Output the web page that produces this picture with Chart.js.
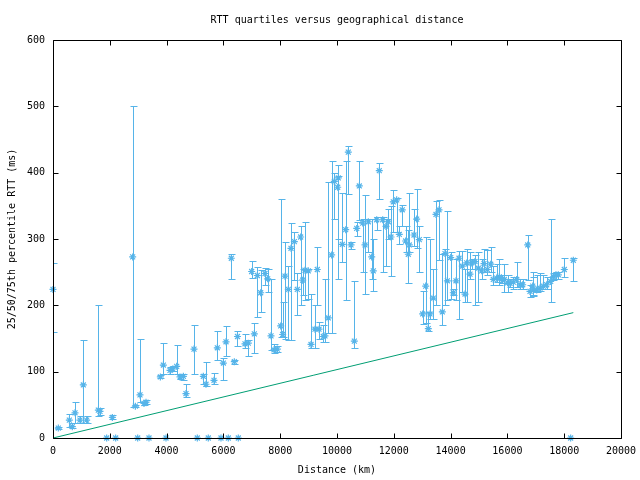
<!doctype html>
<html lang="en">
<head>
<meta charset="UTF-8" />
<title>RTT quartiles versus geographical distance</title>
<style>
  body { margin: 0; background: white; }
  canvas { display: block; }
</style>
</head>
<body>
<canvas id="rttChart" width="640" height="480"></canvas>
<script src="https://cdn.jsdelivr.net/npm/chart.js"></script>
<script>
// distance (km) of each destination and its 25/50/75th percentile RTT (ms)
var distanceKm = [
  0, 187, 575, 680, 775, 950, 1067, 1185, 1596, 1655,
  1890, 2090, 2207, 2805, 2900, 2982, 3063, 3204, 3275, 3380,
  3780, 3885, 3979, 4120, 4214, 4354, 4472, 4590, 4683, 4965,
  5081, 5293, 5387, 5468, 5669, 5786, 5915, 5998, 6092, 6173,
  6279, 6385, 6496, 6525, 6761, 6878, 6995, 7089, 7195, 7312,
  7465, 7559, 7676, 7782, 7899, 8017, 8087, 8169, 8286, 8380,
  8498, 8603, 8720, 8791, 8873, 8990, 9085, 9225, 9307, 9366,
  9518, 9577, 9694, 9812, 9905, 10024, 10046, 10187, 10306, 10398,
  10493, 10610, 10694, 10786, 10905, 10986, 11103, 11222, 11278, 11398,
  11489, 11609, 11725, 11806, 11901, 11983, 12101, 12193, 12298, 12416,
  12511, 12546, 12711, 12805, 12898, 13017, 13123, 13215, 13275, 13391,
  13486, 13592, 13709, 13803, 13885, 14004, 14096, 14190, 14296, 14412,
  14507, 14567, 14683, 14743, 14859, 14976, 15095, 15176, 15293, 15412,
  15504, 15623, 15715, 15799, 15891, 16010, 16092, 16209, 16327, 16444,
  16539, 16715, 16796, 16891, 16912, 17031, 17148, 17264, 17383, 17524,
  17616, 17711, 17792, 18004, 18228, 18321
];
var rttP50 = [
  224, 15, 27, 17, 38, 27, 80, 27, 42, 40,
  0, 31, 0, 273, 48, 0, 65, 52, 54, 0,
  92, 110, 0, 102, 104, 108, 92, 93, 67, 134,
  0, 93, 81, 0, 87, 136, 0, 113, 145, 0,
  271, 115, 153, 0, 142, 143, 251, 157, 245, 219,
  248, 240, 154, 133, 134, 169, 156, 244, 224, 286,
  296, 224, 303, 238, 253, 252, 141, 164, 254, 164,
  153, 154, 181, 276, 387, 378, 392, 292, 314, 431,
  291, 146, 316, 380, 324, 291, 326, 273, 252, 329,
  403, 329, 319, 326, 303, 356, 359, 307, 344, 297,
  277, 291, 306, 330, 299, 187, 229, 165, 187, 211,
  337, 344, 190, 278, 237, 272, 219, 237, 271, 259,
  217, 264, 247, 264, 266, 256, 252, 263, 254, 262,
  239, 241, 243, 239, 239, 234, 233, 235, 239, 231,
  231, 291, 221, 229, 223, 223, 226, 229, 231, 236,
  243, 246, 246, 254, 0, 268
];
var rttP25 = [
  160, 13, 17, 15, 22, 22, 22, 22, 33, 35,
  0, 28, 0, 47, 46, 0, 55, 50, 52, 0,
  90, 97, 0, 97, 101, 97, 89, 87, 62, 96,
  0, 82, 79, 0, 82, 118, 0, 88, 123, 0,
  240, 112, 138, 0, 136, 124, 241, 128, 182, 190,
  230, 220, 133, 128, 130, 153, 153, 150, 148, 148,
  238, 185, 200, 215, 208, 210, 135, 135, 200, 150,
  145, 145, 158, 159, 330, 300, 239, 265, 208, 368,
  285, 135, 305, 329, 250, 217, 280, 240, 222, 313,
  361, 250, 260, 300, 244, 311, 310, 292, 320, 280,
  233, 280, 290, 286, 250, 172, 173, 162, 180, 180,
  200, 268, 170, 200, 208, 210, 215, 208, 180, 220,
  205, 205, 240, 255, 200, 205, 240, 250, 245, 250,
  230, 235, 230, 233, 220, 220, 228, 225, 228, 225,
  225, 238, 212, 215, 214, 220, 222, 225, 225, 205,
  238, 240, 240, 242, 0, 237
];
var rttP75 = [
  264, 17, 36, 22, 55, 33, 148, 33, 200, 45,
  0, 34, 0, 501, 50, 0, 149, 55, 57, 0,
  95, 143, 0, 107, 108, 140, 95, 97, 82, 171,
  0, 97, 115, 0, 98, 161, 0, 120, 169, 0,
  277, 118, 162, 0, 157, 147, 267, 173, 258, 254,
  257, 255, 240, 142, 138, 360, 205, 295, 260, 324,
  311, 249, 320, 255, 326, 255, 217, 200, 288, 175,
  170, 240, 386, 418, 400, 395, 411, 370, 418, 440,
  295, 237, 325, 417, 330, 366, 330, 330, 300, 333,
  414, 333, 330, 345, 349, 374, 362, 320, 352, 320,
  313, 370, 345, 376, 320, 222, 303, 190, 300, 255,
  358, 359, 278, 285, 342, 280, 225, 270, 282, 282,
  255, 285, 280, 270, 276, 280, 270, 285, 283, 288,
  260, 262, 270, 245, 262, 245, 240, 242, 265, 240,
  240, 306, 230, 250, 242, 245, 248, 245, 242, 330,
  248, 250, 250, 272, 0, 271
];

// lower bound line (end points)
var boundKm = [0, 18321];
var boundRtt = [0, 189];

var fonte = "'DejaVu Sans Mono', monospace";
var azul = '#56b4e9';
var verde = '#009e73';

var pontos = distanceKm.map(function (d, i) { return { x: d, y: rttP50[i] }; });
var linha = boundKm.map(function (d, i) { return { x: d, y: boundRtt[i] }; });

// error bars, border and inward tick marks (gnuplot look)
var gnuplotFrame = {
  id: 'gnuplotFrame',
  afterDatasetsDraw: function (chart) {
    var ctx = chart.ctx, xs = chart.scales.x, ys = chart.scales.y, ca = chart.chartArea;
    ctx.save();
    ctx.beginPath();
    ctx.rect(ca.left, ca.top, ca.right - ca.left + 1, ca.bottom - ca.top + 1);
    ctx.clip();
    ctx.strokeStyle = azul;
    ctx.lineWidth = 1;
    ctx.beginPath();
    for (var i = 0; i < distanceKm.length; i++) {
      if (rttP75[i] <= rttP25[i]) continue;
      var x = Math.round(xs.getPixelForValue(distanceKm[i])) + 0.5;
      var y1 = Math.round(ys.getPixelForValue(rttP25[i])) + 0.5;
      var y2 = Math.round(ys.getPixelForValue(rttP75[i])) + 0.5;
      ctx.moveTo(x, y1); ctx.lineTo(x, y2);
      ctx.moveTo(x - 3, y1); ctx.lineTo(x + 4, y1);
      ctx.moveTo(x - 3, y2); ctx.lineTo(x + 4, y2);
    }
    ctx.stroke();
    ctx.restore();
  },
  afterDraw: function (chart) {
    var ctx = chart.ctx, xs = chart.scales.x, ys = chart.scales.y, ca = chart.chartArea;
    var l = Math.floor(ca.left) + 0.5, r = Math.floor(ca.right) + 0.5;
    var t = Math.floor(ca.top) + 0.5, b = Math.floor(ca.bottom) + 0.5;
    ctx.save();
    ctx.strokeStyle = '#000';
    ctx.lineWidth = 1;
    ctx.beginPath();
    ctx.rect(l, t, r - l, b - t);
    xs.ticks.forEach(function (tk) {
      var x = Math.round(xs.getPixelForValue(tk.value)) + 0.5;
      ctx.moveTo(x, b); ctx.lineTo(x, b - 5);
      ctx.moveTo(x, t); ctx.lineTo(x, t + 5);
    });
    ys.ticks.forEach(function (tk) {
      var y = Math.round(ys.getPixelForValue(tk.value)) + 0.5;
      ctx.moveTo(l, y); ctx.lineTo(l + 5, y);
      ctx.moveTo(r, y); ctx.lineTo(r - 5, y);
    });
    ctx.stroke();
    ctx.restore();
  }
};

var ctx = document.getElementById('rttChart').getContext('2d');
var rttChart = new Chart(ctx, {
  type: 'scatter',
  data: {
    datasets: [{
      label: 'RTT median',
      data: pontos,
      pointStyle: 'star',
      pointRadius: 3.5,
      borderWidth: 1.2,
      borderColor: azul,
      backgroundColor: azul,
      clip: false
    }, {
      type: 'line',
      label: 'lower bound',
      data: linha,
      borderColor: verde,
      borderWidth: 1,
      pointRadius: 0,
      fill: false
    }]
  },
  options: {
    responsive: false,
    animation: false,
    layout: { padding: { left: 0, right: 19, top: 0, bottom: 0 } },
    plugins: {
      legend: { display: false },
      tooltip: { enabled: false },
      title: {
        display: true,
        text: 'RTT quartiles versus geographical distance',
        fullSize: false,
        color: '#000',
        font: { family: fonte, size: 10, weight: 'normal' },
        padding: { top: 14, bottom: 14 }
      }
    },
    scales: {
      x: {
        type: 'linear',
        min: 0,
        max: 20000,
        grid: { display: false, drawTicks: false },
        border: { display: false },
        ticks: {
          stepSize: 2000,
          autoSkip: false,
          maxRotation: 0,
          padding: 7,
          color: '#000',
          font: { family: fonte, size: 10 },
          callback: function (v) { return String(v); }
        },
        title: {
          display: true,
          text: 'Distance (km)',
          color: '#000',
          font: { family: fonte, size: 10 },
          padding: { top: 0, bottom: 4 }
        },
        afterFit: function (scale) {
          scale.height = 42;
          scale.paddingLeft = 0;
          scale.paddingRight = 0;
        }
      },
      y: {
        min: 0,
        max: 600,
        grid: { display: false, drawTicks: false },
        border: { display: false },
        ticks: {
          stepSize: 100,
          padding: 8,
          color: '#000',
          font: { family: fonte, size: 10 },
          callback: function (v) { return String(v); }
        },
        title: {
          display: true,
          text: '25/50/75th percentile RTT (ms)',
          color: '#000',
          font: { family: fonte, size: 10 },
          padding: { top: 6, bottom: 0 }
        },
        afterFit: function (scale) { scale.width = 53; }
      }
    }
  },
  plugins: [gnuplotFrame]
});
</script>
</body>
</html>
